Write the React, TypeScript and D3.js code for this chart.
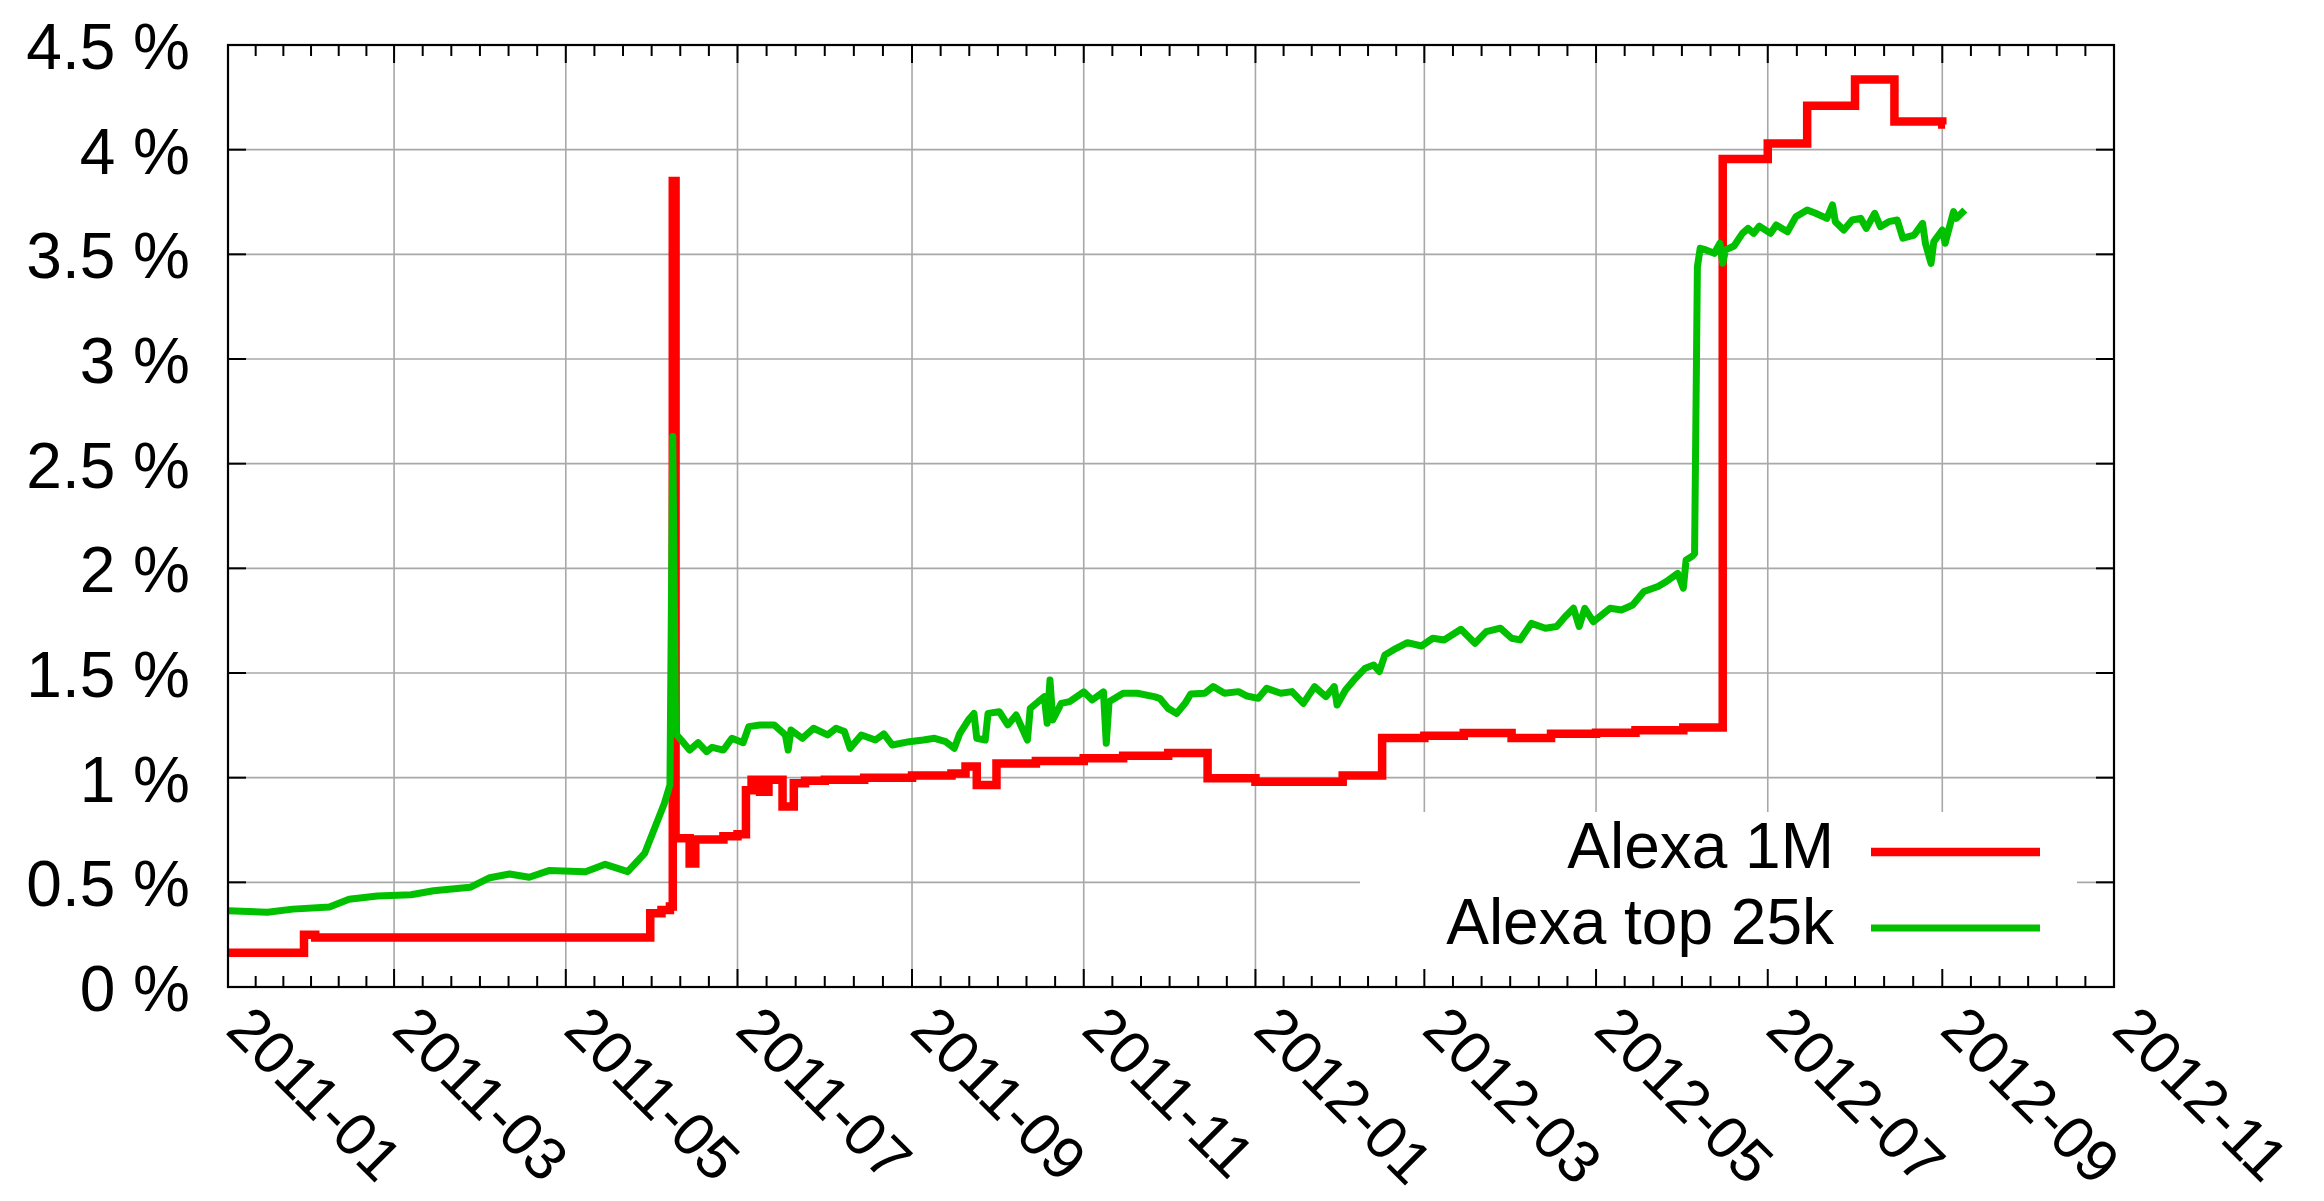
import * as d3 from 'd3';

// plot frame (page pixels)
const PLOT = { left: 228, right: 2114, top: 45, bottom: 987 };
const FONT = '"Liberation Sans", Arial, Helvetica, sans-serif';

const X_START = '2011-01-01';
const X_END = '2012-11-01';
const Y_TICKS = [0, 0.5, 1, 1.5, 2, 2.5, 3, 3.5, 4, 4.5];

const SERIES_NAMES = ['Alexa 1M', 'Alexa top 25k'];
const SERIES_COLORS = ['#ff0000', '#00c000'];

// Alexa 1M: updated in steps (value holds until next date)
const ALEXA_1M: [string, number][] = [
  ['2011-01-01', 0.164], ['2011-01-28', 0.25], ['2011-02-01', 0.236],
  ['2011-05-31', 0.352], ['2011-06-04', 0.368], ['2011-06-07', 0.384],
  ['2011-06-08', 3.85], ['2011-06-09', 0.71], ['2011-06-14', 0.59],
  ['2011-06-16', 0.705], ['2011-06-26', 0.72], ['2011-07-01', 0.73],
  ['2011-07-04', 0.94], ['2011-07-06', 0.99], ['2011-07-09', 0.933],
  ['2011-07-12', 0.99], ['2011-07-17', 0.862], ['2011-07-21', 0.973],
  ['2011-07-25', 0.985], ['2011-08-01', 0.99], ['2011-08-15', 1.0],
  ['2011-09-01', 1.01], ['2011-09-15', 1.02], ['2011-09-20', 1.053],
  ['2011-09-24', 0.965], ['2011-10-01', 1.068], ['2011-10-15', 1.08],
  ['2011-11-01', 1.093], ['2011-11-15', 1.105], ['2011-12-01', 1.118],
  ['2011-12-15', 0.997], ['2012-01-01', 0.98], ['2012-02-01', 1.01],
  ['2012-02-15', 1.19], ['2012-03-01', 1.2], ['2012-03-15', 1.213],
  ['2012-04-01', 1.19], ['2012-04-15', 1.21], ['2012-05-01', 1.215],
  ['2012-05-15', 1.227], ['2012-06-01', 1.24], ['2012-06-15', 3.955],
  ['2012-07-01', 4.03], ['2012-07-15', 4.21], ['2012-08-01', 4.335],
  ['2012-08-15', 4.135], ['2012-09-01', 4.12], ['2012-09-02', 4.12],
];

// Alexa top 25k: daily-ish samples
const ALEXA_TOP25K: [string, number][] = [
  ['2011-01-01', 0.364], ['2011-01-15', 0.357], ['2011-01-24', 0.372],
  ['2011-02-06', 0.382], ['2011-02-13', 0.419], ['2011-02-23', 0.435],
  ['2011-03-07', 0.441], ['2011-03-15', 0.46], ['2011-03-28', 0.476],
  ['2011-04-04', 0.522], ['2011-04-11', 0.54], ['2011-04-18', 0.524],
  ['2011-04-25', 0.556], ['2011-05-08', 0.551], ['2011-05-15', 0.586],
  ['2011-05-23', 0.551], ['2011-05-29', 0.638], ['2011-06-05', 0.877],
  ['2011-06-07', 0.965], ['2011-06-08', 2.63], ['2011-06-09', 1.21],
  ['2011-06-11', 1.18], ['2011-06-14', 1.132], ['2011-06-17', 1.167],
  ['2011-06-20', 1.124], ['2011-06-22', 1.145], ['2011-06-26', 1.132],
  ['2011-06-29', 1.188], ['2011-07-03', 1.167], ['2011-07-05', 1.244],
  ['2011-07-09', 1.252], ['2011-07-14', 1.252], ['2011-07-18', 1.204],
  ['2011-07-19', 1.132], ['2011-07-20', 1.228], ['2011-07-24', 1.188],
  ['2011-07-28', 1.236], ['2011-08-02', 1.204], ['2011-08-05', 1.236],
  ['2011-08-08', 1.22], ['2011-08-10', 1.14], ['2011-08-14', 1.204],
  ['2011-08-19', 1.18], ['2011-08-22', 1.209], ['2011-08-25', 1.156],
  ['2011-08-31', 1.172], ['2011-09-05', 1.18], ['2011-09-09', 1.188],
  ['2011-09-13', 1.172], ['2011-09-16', 1.14], ['2011-09-18', 1.212],
  ['2011-09-21', 1.275], ['2011-09-23', 1.307], ['2011-09-24', 1.188],
  ['2011-09-27', 1.18], ['2011-09-28', 1.307], ['2011-10-02', 1.315],
  ['2011-10-05', 1.252], ['2011-10-08', 1.299], ['2011-10-12', 1.18],
  ['2011-10-13', 1.331], ['2011-10-18', 1.387], ['2011-10-19', 1.26],
  ['2011-10-20', 1.466], ['2011-10-21', 1.276], ['2011-10-24', 1.355],
  ['2011-10-27', 1.363], ['2011-11-01', 1.41], ['2011-11-04', 1.371],
  ['2011-11-08', 1.41], ['2011-11-09', 1.164], ['2011-11-10', 1.363],
  ['2011-11-15', 1.403], ['2011-11-20', 1.403], ['2011-11-26', 1.387],
  ['2011-11-28', 1.379], ['2011-12-01', 1.331], ['2011-12-04', 1.307],
  ['2011-12-07', 1.355], ['2011-12-09', 1.4], ['2011-12-14', 1.403],
  ['2011-12-17', 1.435], ['2011-12-21', 1.403], ['2011-12-26', 1.411],
  ['2011-12-29', 1.39], ['2012-01-02', 1.379], ['2012-01-05', 1.427],
  ['2012-01-10', 1.403], ['2012-01-14', 1.411], ['2012-01-18', 1.355],
  ['2012-01-22', 1.435], ['2012-01-26', 1.387], ['2012-01-29', 1.435],
  ['2012-01-30', 1.347], ['2012-02-02', 1.419], ['2012-02-05', 1.467],
  ['2012-02-09', 1.523], ['2012-02-12', 1.538], ['2012-02-14', 1.507],
  ['2012-02-16', 1.586], ['2012-02-20', 1.618], ['2012-02-24', 1.645],
  ['2012-02-29', 1.629], ['2012-03-04', 1.666], ['2012-03-08', 1.658],
  ['2012-03-14', 1.709], ['2012-03-19', 1.642], ['2012-03-23', 1.698],
  ['2012-03-28', 1.714], ['2012-04-01', 1.666], ['2012-04-04', 1.658],
  ['2012-04-08', 1.737], ['2012-04-13', 1.714], ['2012-04-17', 1.722],
  ['2012-04-20', 1.769], ['2012-04-23', 1.809], ['2012-04-25', 1.722],
  ['2012-04-27', 1.809], ['2012-04-30', 1.745], ['2012-05-06', 1.809],
  ['2012-05-10', 1.801], ['2012-05-14', 1.825], ['2012-05-18', 1.889],
  ['2012-05-23', 1.913], ['2012-05-26', 1.937], ['2012-05-30', 1.976],
  ['2012-06-01', 1.905], ['2012-06-02', 2.04], ['2012-06-04', 2.056],
  ['2012-06-05', 2.07], ['2012-06-06', 3.44], ['2012-06-07', 3.529],
  ['2012-06-09', 3.521], ['2012-06-12', 3.505], ['2012-06-14', 3.553],
  ['2012-06-15', 3.457], ['2012-06-16', 3.521], ['2012-06-19', 3.54],
  ['2012-06-22', 3.6], ['2012-06-24', 3.624], ['2012-06-26', 3.6],
  ['2012-06-28', 3.635], ['2012-07-02', 3.6], ['2012-07-04', 3.64],
  ['2012-07-08', 3.608], ['2012-07-11', 3.68], ['2012-07-15', 3.712],
  ['2012-07-18', 3.696], ['2012-07-22', 3.672], ['2012-07-24', 3.736],
  ['2012-07-25', 3.656], ['2012-07-28', 3.616], ['2012-07-31', 3.664],
  ['2012-08-03', 3.672], ['2012-08-05', 3.624], ['2012-08-08', 3.696],
  ['2012-08-10', 3.632], ['2012-08-13', 3.656], ['2012-08-16', 3.664],
  ['2012-08-18', 3.577], ['2012-08-22', 3.592], ['2012-08-25', 3.648],
  ['2012-08-26', 3.553], ['2012-08-28', 3.457], ['2012-08-29', 3.561],
  ['2012-09-01', 3.616], ['2012-09-02', 3.553], ['2012-09-05', 3.704],
  ['2012-09-06', 3.672], ['2012-09-09', 3.712],
];

const parse = d3.timeParse('%Y-%m-%d');
const fmtMonth = d3.timeFormat('%Y-%m');

export default function App() {
  const start = parse(X_START)!;
  const end = parse(X_END)!;
  const x = d3.scaleTime().domain([start, end]).range([PLOT.left, PLOT.right]);
  const y = d3.scaleLinear().domain([0, 4.5]).range([PLOT.bottom, PLOT.top]);

  const major = d3.timeMonth.every(2)!.range(start, d3.timeDay.offset(end, 1));
  // 5 minor ticks between majors
  const minor = d3.pairs(major).flatMap(([a, b]) =>
    d3.range(1, 6).map(i => x(a) + ((x(b) - x(a)) * i) / 6));

  const stepLine = d3.line<[string, number]>()
    .x(d => x(parse(d[0])!))
    .y(d => y(d[1]))
    .curve(d3.curveStepAfter);
  const plainLine = d3.line<[string, number]>()
    .x(d => x(parse(d[0])!))
    .y(d => y(d[1]));

  const RED_W = 8.5;
  const GREEN_W = 7;

  const legend = { x0: 1360, x1: 2077, y0: 812, textX: 1834, lineX0: 1871, lineX1: 2040 };
  const legendRows = [
    { name: SERIES_NAMES[0], color: SERIES_COLORS[0], baseline: 868, lineY: 852, width: RED_W },
    { name: SERIES_NAMES[1], color: SERIES_COLORS[1], baseline: 944, lineY: 928, width: GREEN_W },
  ];

  return (
    <svg width={2324} height={1201} style={{ position: 'absolute', left: 0, top: 0, background: '#fff' }}
      fontFamily={FONT}>
      <rect x={0} y={0} width={2324} height={1201} fill="#fff" />

      {/* grid */}
      <g stroke="#a8a8a8" strokeWidth={1.6}>
        {major.filter(d => +d > +start && +d < +end).map(d => (
          <line key={+d} x1={x(d)} x2={x(d)} y1={PLOT.top} y2={PLOT.bottom} />
        ))}
        {Y_TICKS.filter(v => v > 0 && v < 4.5).map(v => (
          <line key={v} x1={PLOT.left} x2={PLOT.right} y1={y(v)} y2={y(v)} />
        ))}
      </g>

      {/* legend background hides grid */}
      <rect x={legend.x0} y={legend.y0} width={legend.x1 - legend.x0} height={PLOT.bottom - legend.y0 - 1} fill="#fff" />

      {/* data */}
      <path d={stepLine(ALEXA_1M)!} fill="none" stroke={SERIES_COLORS[0]} strokeWidth={RED_W}
        strokeLinejoin="miter" strokeLinecap="butt" />
      <path d={plainLine(ALEXA_TOP25K)!} fill="none" stroke={SERIES_COLORS[1]} strokeWidth={GREEN_W}
        strokeLinejoin="round" strokeLinecap="butt" />

      {/* ticks */}
      <g stroke="#000" strokeWidth={2}>
        {major.map(d => (
          <g key={+d}>
            <line x1={x(d)} x2={x(d)} y1={PLOT.bottom} y2={PLOT.bottom - 18} />
            <line x1={x(d)} x2={x(d)} y1={PLOT.top} y2={PLOT.top + 18} />
          </g>
        ))}
        {minor.map((px, i) => (
          <g key={i}>
            <line x1={px} x2={px} y1={PLOT.bottom} y2={PLOT.bottom - 11} />
            <line x1={px} x2={px} y1={PLOT.top} y2={PLOT.top + 11} />
          </g>
        ))}
        {Y_TICKS.map(v => (
          <g key={v}>
            <line x1={PLOT.left} x2={PLOT.left + 18} y1={y(v)} y2={y(v)} />
            <line x1={PLOT.right} x2={PLOT.right - 18} y1={y(v)} y2={y(v)} />
          </g>
        ))}
      </g>

      {/* border */}
      <rect x={PLOT.left} y={PLOT.top} width={PLOT.right - PLOT.left} height={PLOT.bottom - PLOT.top}
        fill="none" stroke="#000" strokeWidth={2.2} />

      {/* y labels */}
      <g fontSize={64} textAnchor="end" fill="#000">
        {Y_TICKS.map(v => (
          <text key={v} x={190} y={y(v) + 24}>{`${v} %`}</text>
        ))}
      </g>

      {/* x labels, rotated */}
      <g fontSize={60} fill="#000">
        {major.map(d => (
          <text key={+d} transform={`translate(${x(d) - 4},${PLOT.bottom + 45}) rotate(45)`}>
            {fmtMonth(d)}
          </text>
        ))}
      </g>

      {/* legend */}
      <g fontSize={64} fill="#000">
        {legendRows.map(r => (
          <g key={r.name}>
            <text x={legend.textX} y={r.baseline} textAnchor="end">{r.name}</text>
            <line x1={legend.lineX0} x2={legend.lineX1} y1={r.lineY} y2={r.lineY}
              stroke={r.color} strokeWidth={r.width} />
          </g>
        ))}
      </g>
    </svg>
  );
}
